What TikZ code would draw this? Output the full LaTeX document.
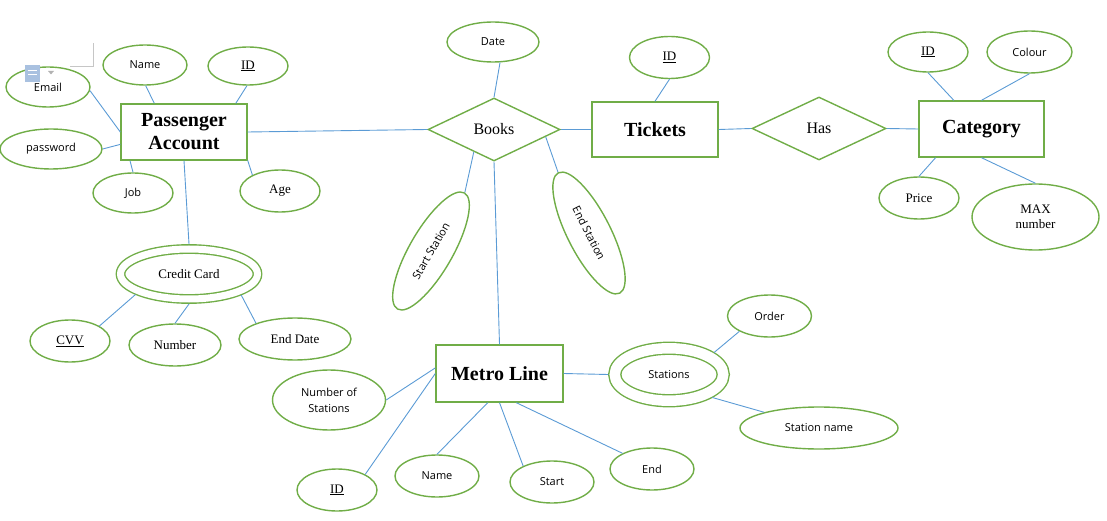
\documentclass[tikz,border=0pt]{standalone}
\usepackage{fontspec}
\setmainfont{Liberation Serif}
\newfontfamily\sansf{Open Sans}
\usetikzlibrary{shapes.geometric}
\definecolor{egreen}{HTML}{70AD47}
\definecolor{eblue}{HTML}{5B9BD5}
\definecolor{iconblue}{HTML}{A9C1E0}
\tikzset{
  ent/.style={draw=egreen, line width=1.4pt, rectangle, inner sep=0pt, align=center,
    font=\fontsize{20}{23}\selectfont\bfseries},
  rel/.style={draw=egreen, line width=1.4pt, diamond, inner sep=0pt,
    font=\fontsize{16}{18}\selectfont},
  attr/.style={draw=egreen, line width=1.4pt, ellipse, inner sep=0pt, align=center},
  sa/.style={attr, font=\sansf\fontsize{11}{16}\selectfont},
  ra/.style={attr, font=\fontsize{13}{15}\selectfont},
  sz/.style 2 args={minimum width=#1pt, minimum height=#2pt},
  dbl/.style={double=white, double distance=#1},
  lnk/.style={draw=eblue, line width=0.9pt},
}
\begin{document}
\begin{tikzpicture}[x=1pt,y=-1pt]
\useasboundingbox (0,0) rectangle (1107,521);
% word artifacts
\draw[gray!45, line width=0.8pt] (70,66) -- (93,66) -- (93,43);
% entities
\node[ent, sz={126}{56}] (pa) at (184,132) {Passenger\\Account};
\node[ent, sz={126}{55}] (tk) at (655,129.5) {Tickets};
\node[ent, sz={125}{56}] (cat) at (981.5,129) {Category};
\node[ent, sz={127}{57}] (ml) at (499.5,373.5) {Metro Line};
% relationships
\node[rel, sz={132}{63}] (books) at (494,129.5) {Books};
\node[rel, sz={134}{63}] (has) at (819,128.5) {Has};
% passenger attributes
\node[sa, sz={84}{40}] (pname) at (145,65) {Name};
\node[ra, sz={80}{38}] (pid) at (248,66) {\underline{ID}};
\node[sa, sz={84}{40}] (email) at (48,87) {Email};
\node[sa, sz={102}{40}] (pw) at (51,149) {password};
\node[sa, sz={80}{40}] (job) at (133,193) {Job};
\node[ra, sz={80}{42}] (age) at (280,191) {Age};
\node[ra, sz={137}{50}, dbl=7pt, outer sep=5pt] (cc) at (189,274) {Credit Card};
\node[ra, sz={80}{42}] (cvv) at (70,341) {\underline{CVV}};
\node[ra, sz={92}{42}] (num) at (175,345) {Number};
\node[ra, sz={112}{42}] (edate) at (295,339) {End Date};
% books attributes
\node[sa, sz={92}{40}] (date) at (493,42) {Date};
\node[sa, sz={134}{43}, rotate=60] (ss) at (431,251) {Start Station};
\node[sa, sz={135}{43}, rotate=-63] (es) at (589,233) {End Station};
% tickets / category attributes
\node[ra, sz={80}{42}] (tid) at (669.5,57.5) {\underline{ID}};
\node[ra, sz={80}{40}] (cid) at (928,52) {\underline{ID}};
\node[sa, sz={85}{42}] (col) at (1029.5,52) {Colour};
\node[ra, sz={80}{42}] (price) at (919,198) {Price};
\node[ra, sz={127}{66}] (maxn) at (1035.5,217) {MAX\\number};
% metro line attributes
\node[sa, sz={113}{60}] (ns) at (329,400) {Number of\\Stations};
\node[ra, sz={80}{42}] (mid) at (337,490) {\underline{ID}};
\node[sa, sz={84}{42}] (mname) at (437,476) {Name};
\node[sa, sz={84}{42}] (mstart) at (552,482) {Start};
\node[sa, sz={84}{42}] (mend) at (652,469) {End};
\node[sa, sz={108.5}{52.5}, dbl=10.5pt, outer sep=6.5pt] (st) at (669,374.5) {Stations};
\node[sa, sz={84}{42}] (order) at (769.5,316) {Order};
\node[sa, sz={158}{42}] (sname) at (819,428) {Station name};
% connectors
\draw[lnk] (pname.-88) -- (pa.136);
\draw[lnk] (pid.267) -- (pa.29);
\draw[lnk] (email.-5) -- (pa.180);
\draw[lnk] (pw.0) -- (pa.191);
\draw[lnk] (job.90) -- (pa.208);
\draw[lnk] (age.150) -- (pa.336);
\draw[lnk] (pa.south) -- (cc.north);
\draw[lnk] (cc.201) -- (cvv.27);
\draw[lnk] (cc.south) -- (num.north);
\draw[lnk] (cc.338) -- (edate.158);
\draw[lnk] (pa.east) -- (books.west);
\draw[lnk] (date.289) -- (books.north);
\draw[lnk] (books.228) -- (ss.east);
\draw[lnk] (books.-8) -- (es.west);
\draw[lnk] (books.south) -- (ml.north);
\draw[lnk] (books.east) -- (tk.west);
\draw[lnk] (tid.south) -- (tk.north);
\draw[lnk] (tk.east) -- (has.west);
\draw[lnk] (has.east) -- (cat.west);
\draw[lnk] (cid.south) -- (cat.134);
\draw[lnk] (col.south) -- (cat.north);
\draw[lnk] (price.north) -- (cat.212);
\draw[lnk] (maxn.north) -- (cat.south);
\draw[lnk] (ns.east) -- (ml.175);
\draw[lnk] (mid.29) -- (ml.180);
\draw[lnk] (mname.north) -- (ml.248);
\draw[lnk] (mstart.151) -- (ml.south);
\draw[lnk] (mend.152) -- (ml.300);
\draw[lnk] (ml.east) -- (st.west);
\draw[lnk] (st.26) -- (order.207);
\draw[lnk] (st.332) -- (sname.164.7);
% paste-options icon
\fill[iconblue] (25,65) rectangle (40,82);
\fill[white] (28,70) rectangle (37,71.5);
\fill[white] (28,74) rectangle (37,75.5);
\fill[gray!60] (48,71) -- (54,71) -- (51,74.5) -- cycle;
\end{tikzpicture}
\end{document}
